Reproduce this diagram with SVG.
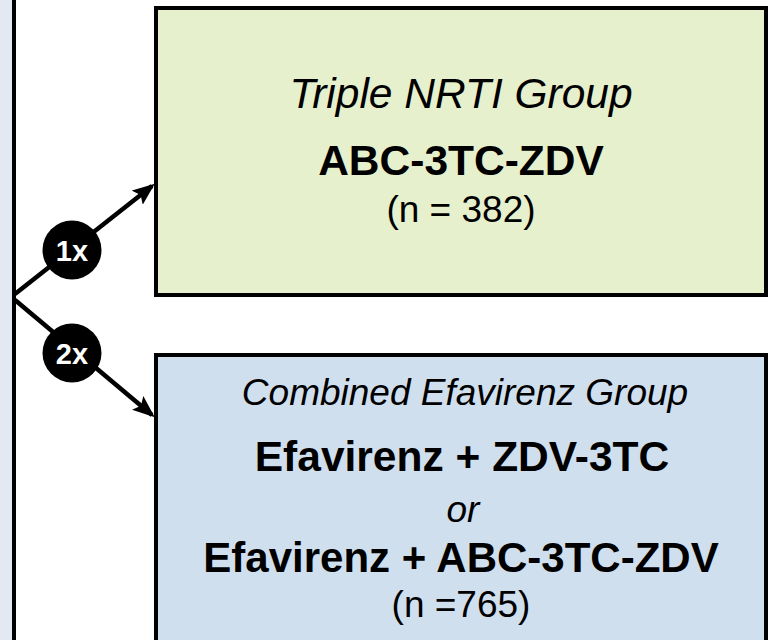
<svg xmlns="http://www.w3.org/2000/svg" width="769" height="640" viewBox="0 0 769 640">
  <style>
    .box { stroke: #000; stroke-width: 4; }
    .t { font-family: "Liberation Sans", Arial, sans-serif; fill: #000; text-anchor: middle; }
    .it { font-style: italic; }
    .bd { font-weight: bold; }
    .conn { stroke: #000; stroke-width: 4.5; fill: none; }
    .badge { fill: #000; }
    .badgeText { font-family: "Liberation Sans", Arial, sans-serif; font-weight: bold; font-size: 29px; fill: #fff; text-anchor: middle; }
  </style>
  <defs>
    <marker id="arrow" markerWidth="5" markerHeight="4" refX="4.2" refY="2" orient="auto" markerUnits="strokeWidth">
      <path d="M0,0 L5,2 L0,4 L1,2 Z" fill="#000"/>
    </marker>
  </defs>
  <rect x="0" y="0" width="769" height="640" fill="#fff"/>
  <rect x="0" y="0" width="13" height="640" fill="#E3E8F2"/>
  <line x1="14" y1="0" x2="14" y2="640" stroke="#000" stroke-width="4"/>

  <g id="node-triple-nrti">
    <rect class="box" x="156" y="8" width="610" height="287" fill="#E6F0CC"/>
    <text class="t it" x="461" y="108" font-size="42.5">Triple NRTI Group</text>
    <text class="t bd" x="461" y="175" font-size="42.5">ABC-3TC-ZDV</text>
    <text class="t" x="461" y="222" font-size="37">(n = 382)</text>
  </g>

  <g id="node-efavirenz">
    <rect class="box" x="156" y="355" width="610" height="300" fill="#D0DFEE"/>
    <text class="t it" x="465" y="405" font-size="37">Combined Efavirenz Group</text>
    <text class="t bd" x="462" y="471" font-size="42.5">Efavirenz + ZDV-3TC</text>
    <text class="t it" x="463" y="522" font-size="37">or</text>
    <text class="t bd" x="461" y="572" font-size="42">Efavirenz + ABC-3TC-ZDV</text>
    <text class="t" x="461" y="617" font-size="37">(n =765)</text>
  </g>

  <g id="connectors">
    <line class="conn" x1="15" y1="294" x2="152" y2="186" marker-end="url(#arrow)"/>
    <line class="conn" x1="15" y1="300" x2="152" y2="415" marker-end="url(#arrow)"/>
  </g>

  <g id="badge-1x">
    <circle class="badge" cx="72" cy="250" r="29.5"/>
    <text class="badgeText" x="72" y="261">1x</text>
  </g>
  <g id="badge-2x">
    <circle class="badge" cx="72" cy="353" r="29.5"/>
    <text class="badgeText" x="72" y="364">2x</text>
  </g>
</svg>
